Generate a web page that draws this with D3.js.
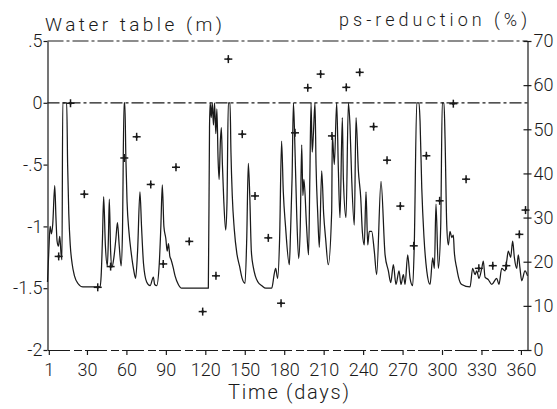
<!DOCTYPE html>
<html>
<head>
<meta charset="utf-8">
<script src="https://cdn.jsdelivr.net/npm/d3@7"></script>
<style>
  body { margin: 0; background: #fff; }
  text { font-family: Roboto, "Liberation Sans", Arial, sans-serif; font-weight: 300; fill: #1a1a1a; }
</style>
</head>
<body>
<script>
var width = 557, height = 409;
var plot = {left: 47.5, right: 527.5, top: 41, bottom: 350};

// water table (m)
var waterDays = [0,1,2,3,4,5.5,6.5,7.3,8.3,9.3,10.3,11,11.6,14.6,15.3,16.2,17.3,18.7,20.5,23,27,40,
  40.8,41.8,42.7,44,45.5,46.3,47,48,49,50.5,52,53.2,54.5,56,57,58.2,58.8,59.6,60.5,62,63.5,65.5,67,68.5,
  70.3,71.5,73,75.4,78,80.5,81.5,83,85,86.2,87.3,88.5,90,91,92,93,94,95.5,97,99.5,102,122.3,
  123.2,123.7,124.5,125.3,126.2,127,128,128.8,129.7,130.5,131.5,132.2,133,134,135.5,136.5,137.5,138.8,
  139.5,140.5,142,144,146,148,150.2,151.5,152.7,153.8,155,156.5,158,160,163,166,170.5,172.5,173.5,175,
  176.5,178,179.3,181,183.9,184.8,186,187,188,189.5,191,192.2,193.3,194.2,195,197,198.5,199.5,200.4,
  201.3,202.2,203.4,204.2,205.5,206.7,208.5,210,211.5,213.5,216.1,216.6,218.1,219.9,221.2,222.4,224.2,
  225,227,228.8,230,231.3,233.3,234.6,236.4,238.2,239.4,240.9,242.2,243.5,244.7,246.5,248.5,250.3,
  253.6,256.7,259.2,261,263,265,267.3,268.8,270.6,271.9,273.9,275.7,277.7,278.9,280.8,282.5,283.3,
  284.6,286.3,288.4,290.9,292.9,294.2,295.4,297.2,299,300.2,301.5,302.3,303.6,304.8,306.1,307.4,308.6,
  309.3,311.2,312.5,315,321.3,323.3,325.1,326.4,328.1,330.2,331.4,332.7,335.2,337.8,341.6,343.3,345.4,
  347.9,349.2,350.4,352.2,353.7,355,356.8,358,359.3,360.6,363.1,365];
var waterLevels = [-1.45,-1.2,-1.0,-1.06,-0.98,-0.67,-0.95,-1.12,-1.16,-1.08,-1.22,-1.27,0,0,-0.5,-0.9,-1.15,-1.3,-1.4,-1.46,-1.49,-1.49,
  -1.4,-1.1,-0.76,-1.15,-1.32,-1.1,-0.78,-1.2,-1.33,-1.25,-1.1,-0.97,-1.15,-1.32,-1.05,0,0,-0.45,-0.8,-1.05,-1.2,-1.35,-1.42,-1.2,
  -0.72,-1.0,-1.3,-1.45,-1.48,-1.41,-1.47,-1.48,-1.3,-1.0,-0.665,-1.0,-1.1,-1.2,-1.14,-1.24,-1.27,-1.33,-1.4,-1.47,-1.5,-1.5,
  -0.2,0,-0.12,0,-0.18,0,-0.25,-0.05,-0.45,-0.62,-0.3,-0.2,-0.5,-0.78,-1.03,-0.8,0,0,
  -0.4,-0.75,-1.02,-1.22,-1.32,-1.42,-1.46,-1.1,-0.49,-0.75,-1.2,-1.33,-1.4,-1.45,-1.48,-1.5,-1.5,-1.38,-1.34,-1.42,
  -1.1,-0.31,-0.72,-1.0,-1.31,-1.05,-0.6,0,-0.3,-0.9,-1.26,-1.0,-0.34,-0.75,-0.62,-1.0,-1.23,-0.6,0,
  -0.4,-0.25,0,-0.5,-0.9,-1.17,-0.55,-0.9,-1.1,-1.31,-0.88,-0.26,-0.5,0,-0.55,-0.93,-0.12,
  -0.62,-0.93,0,-0.18,-0.61,-0.99,-0.12,-0.55,-0.77,-1.04,-1.15,-0.72,-1.15,-1.04,-1.04,-1.2,-1.39,
  -0.635,-1.23,-1.36,-1.455,-1.31,-1.47,-1.36,-1.47,-1.39,-1.47,-1.23,-1.42,-1.48,-1.15,0,0,-0.15,
  -0.69,-1.09,-1.36,-1.47,-1.255,-1.34,-0.82,-1.34,-1.0,0,0,-0.285,-0.99,-1.15,-1.04,-1.09,-1.07,
  -1.2,-1.34,-1.41,-1.47,-1.49,-1.34,-1.39,-1.36,-1.42,-1.34,-1.28,-1.41,-1.43,-1.47,-1.42,-1.47,-1.34,
  -1.36,-1.28,-1.2,-1.25,-1.12,-1.25,-1.34,-1.23,-1.34,-1.44,-1.36,-1.4];

// ps-reduction (%) markers
var psDays = [8.5,17.5,28,38.2,48,58.4,67.8,78.5,88,97.7,107.8,118,128.1,137.5,148.1,157.8,167.9,177.6,
  188.2,197.9,207.7,216.3,227.2,237.4,248,258.2,268.3,278.5,288.1,298.2,308.6,318.3,328,338.6,348.9,358.8,363.5];
var psValues = [21.2,55.9,35.3,14.2,18.9,43.5,48.3,37.5,19.5,41.4,24.6,8.7,16.8,65.9,48.9,34.9,25.4,10.6,
  49.2,59.4,62.5,48.5,59.5,62.9,50.6,43.0,32.6,23.6,44.0,33.8,55.8,38.7,18.5,19.1,19.1,26.2,31.7];

var dayTicks = [1,30,60,90,120,150,180,210,240,270,300,330,360];
var waterTicks = [0.5,0,-0.5,-1,-1.5,-2];
var waterTickLabels = [".5","0","-.5","-1","-1.5","-2"];
var psTicks = [0,10,20,30,40,50,60,70];

var svg = d3.select("body").append("svg")
    .attr("width", width)
    .attr("height", height);

var x = d3.scaleLinear().domain([0, 365]).range([plot.left, plot.right]);
var y = d3.scaleLinear().domain([-2, 0.5]).range([plot.bottom, plot.top]);
var y2 = d3.scaleLinear().domain([0, 70]).range([plot.bottom, plot.top]);

var ink = "#1a1a1a";
var font = "Roboto, 'Liberation Sans', Arial, sans-serif";

// frame top + zero line, dash-dot like the scan
svg.append("line")
    .attr("x1", x(0)).attr("x2", x(365))
    .attr("y1", y(0.5)).attr("y2", y(0.5))
    .attr("stroke", ink).attr("stroke-width", 1.2)
    .attr("stroke-dasharray", "16,3,3,3");
svg.append("line")
    .attr("x1", x(0)).attr("x2", x(365))
    .attr("y1", y(0)).attr("y2", y(0))
    .attr("stroke", ink).attr("stroke-width", 1.2)
    .attr("stroke-dasharray", "12,3,3,3");

// axes
var bottom = svg.append("g")
    .attr("transform", "translate(0," + plot.bottom + ")")
    .call(d3.axisBottom(x).tickValues(dayTicks).tickSize(5).tickSizeOuter(0).tickPadding(8));
bottom.select(".domain").attr("stroke-dasharray", "22,4,8,3");

var left = svg.append("g")
    .attr("transform", "translate(" + plot.left + ",0)")
    .call(d3.axisLeft(y).tickValues(waterTicks)
        .tickFormat(function(d, i) { return waterTickLabels[i]; })
        .tickSize(4).tickSizeOuter(0).tickPadding(1));

var right = svg.append("g")
    .attr("transform", "translate(" + plot.right + ",0)")
    .call(d3.axisRight(y2).tickValues(psTicks).tickSize(4).tickSizeOuter(0).tickPadding(2));
right.selectAll(".tick line").attr("x1", -4);

[bottom, left, right].forEach(function(g) {
    g.selectAll(".domain, .tick line").attr("stroke", ink).attr("stroke-width", 1.2);
    g.selectAll("text").attr("font-size", 18).attr("fill", ink)
        .style("font-family", font).style("font-weight", 300);
});

// water table line
var line = d3.line()
    .x(function(d) { return x(d[0]); })
    .y(function(d) { return y(d[1]); })
    .curve(d3.curveMonotoneX);

svg.append("path")
    .datum(waterDays.map(function(d, i) { return [d, waterLevels[i]]; }))
    .attr("d", line)
    .attr("fill", "none")
    .attr("stroke", ink)
    .attr("stroke-width", 1.25)
    .attr("stroke-linejoin", "round");

// ps-reduction crosses
var marks = svg.append("g").selectAll("g")
    .data(psDays.map(function(d, i) { return [d, psValues[i]]; }))
    .enter().append("g")
    .attr("transform", function(d) { return "translate(" + x(d[0]) + "," + y2(d[1]) + ")"; });
marks.append("line").attr("x1", -4).attr("x2", 4).attr("y1", 0).attr("y2", 0);
marks.append("line").attr("x1", 0).attr("x2", 0).attr("y1", -4).attr("y2", 4);
marks.selectAll("line").attr("stroke", ink).attr("stroke-width", 1.5);
marks.append("circle").attr("r", 1.4).attr("fill", ink);

// titles
svg.append("text")
    .attr("x", 45).attr("y", 31)
    .attr("font-size", 19)
    .attr("textLength", 177).attr("lengthAdjust", "spacing")
    .text("Water table (m)");
svg.append("text")
    .attr("x", 339).attr("y", 26)
    .attr("font-size", 18)
    .attr("textLength", 188).attr("lengthAdjust", "spacing")
    .text("ps-reduction (%)");
svg.append("text")
    .attr("x", 228).attr("y", 399)
    .attr("font-size", 20)
    .attr("textLength", 121).attr("lengthAdjust", "spacing")
    .text("Time (days)");
</script>
</body>
</html>
